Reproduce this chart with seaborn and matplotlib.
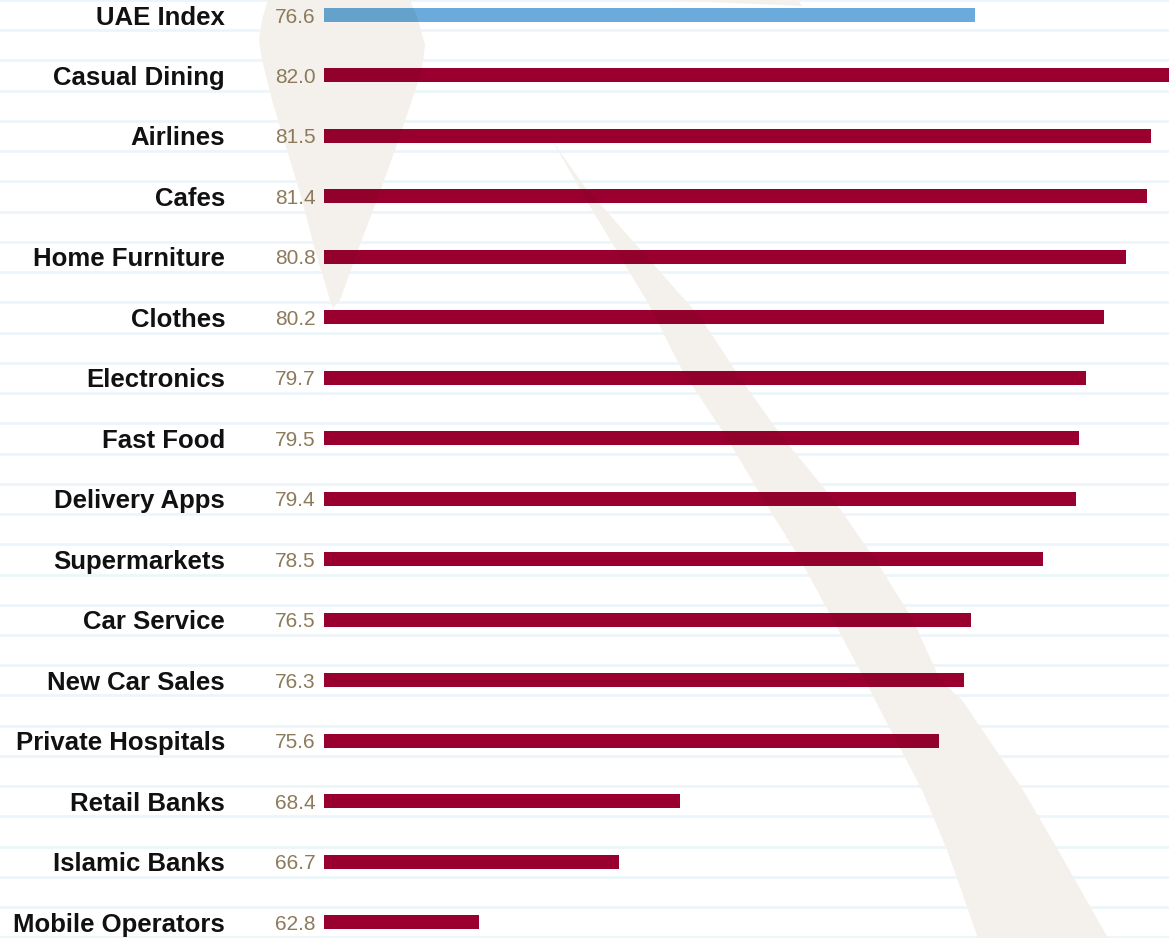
import matplotlib
matplotlib.use("Agg")
import matplotlib.pyplot as plt
from matplotlib.patches import Polygon, Rectangle
import numpy as np
import pandas as pd
import seaborn as sns

# Satisfaction scores by sector
categories = [
    "UAE Index", "Casual Dining", "Airlines", "Cafes", "Home Furniture",
    "Clothes", "Electronics", "Fast Food", "Delivery Apps", "Supermarkets",
    "Car Service", "New Car Sales", "Private Hospitals", "Retail Banks",
    "Islamic Banks", "Mobile Operators",
]
scores = [76.6, 82.0, 81.5, 81.4, 80.8, 80.2, 79.7, 79.5, 79.4, 78.5,
          76.5, 76.3, 75.6, 68.4, 66.7, 62.8]

INDEX_COLOR = "#6AABDB"
SECTOR_COLOR = "#990030"
VALUE_COLOR = "#8C7A5A"
STRIPE_COLOR = "#EEF5FA"
SWOOSH_RGB = (244 / 255, 241 / 255, 236 / 255)

W, H = 1169, 938
X_MIN, X_MAX = 58.5, 82.0
fig = plt.figure(figsize=(W / 100, H / 100), dpi=100)
fig.patch.set_facecolor("white")

y_top, y_bottom = -0.248, 15.26

# background: thin stripes and the decorative brush strokes (pixel coordinates)
bg = fig.add_axes([0, 0, 1, 1], zorder=0)
bg.set_xlim(0, W)
bg.set_ylim(H, 0)
bg.axis("off")

px_per_row = (922.3 - 15.0) / 15
for k in range(33):
    yrow = k * 0.5 - 0.25
    ypx = 15.0 + yrow * px_per_row
    bg.axhline(ypx, color=STRIPE_COLOR, lw=2.0, zorder=1)

drop = [(271, -20), (268, 0), (262, 20), (259, 40), (262, 60), (272, 100),
        (287, 150), (302, 200), (315, 250), (330, 300), (333, 308),
        (340, 300), (358, 250), (377, 200), (395, 150), (412, 100),
        (422, 70), (425, 45), (418, 20), (410, 0), (404, -20)]
sweep = [(553, 142), (588, 203), (618, 253), (648, 303), (682, 370),
         (727, 438), (763, 499), (800, 559), (833, 620), (865, 680),
         (875, 700), (922, 790), (947, 850), (978, 938), (985, 960),
         (1118, 960), (1108, 938), (1058, 850), (1023, 790), (962, 700),
         (940, 680), (913, 620), (875, 559), (833, 499), (783, 438),
         (740, 378), (722, 350), (700, 317), (647, 257), (585, 187)]
sliver = [(655, -5), (663, 0), (720, 2.5), (802, 6), (798, 0), (795, -5)]
strokes = [drop, sweep, sliver]
for pts in strokes:
    bg.add_patch(Polygon(pts, closed=True, facecolor=SWOOSH_RGB,
                         edgecolor="none", zorder=2))

# main bar axes
ax = fig.add_axes([324 / W, 0, 1 - 324 / W, 1], zorder=1)
ax.patch.set_alpha(0)

df = pd.DataFrame({"category": categories, "score": scores})
colors = [INDEX_COLOR] + [SECTOR_COLOR] * (len(categories) - 1)
sns.barplot(data=df, x="score", y="category", hue="category",
            palette=colors, legend=False, width=0.231, saturation=1,
            ax=ax)
ax.set_xlim(X_MIN, X_MAX)
ax.set_ylim(y_bottom, y_top)
ax.axis("off")

# bars look tinted where they cross the brush strokes
bars = list(ax.patches)
for bar in bars:
    fc = np.array(bar.get_facecolor()[:3]) * np.array(SWOOSH_RGB)
    x0 = max(bar.get_x(), X_MIN)
    x1 = min(bar.get_x() + bar.get_width(), X_MAX)
    visible = Rectangle((x0, bar.get_y()), x1 - x0, bar.get_height(),
                        transform=ax.transData)
    for pts in strokes:
        poly = Polygon(pts, closed=True, facecolor=fc, edgecolor="none",
                       transform=bg.transData, zorder=bar.get_zorder() + 0.1)
        ax.add_patch(poly)
        poly.set_clip_path(visible)
ax.set_xlim(X_MIN, X_MAX)
ax.set_ylim(y_bottom, y_top)

for i, (cat, val) in enumerate(zip(categories, scores)):
    ax.annotate(cat, xy=(0, i), xycoords=("axes fraction", "data"),
                xytext=(225 - 324, 0), textcoords="offset pixels",
                ha="right", va="center_baseline", fontsize=18.5,
                fontweight="bold", family="Liberation Sans", color="#111111")
    ax.annotate(f"{val:.1f}", xy=(0, i), xycoords=("axes fraction", "data"),
                xytext=(-8, 0), textcoords="offset pixels",
                ha="right", va="center_baseline", fontsize=15,
                family="Liberation Sans", color=VALUE_COLOR)

fig.savefig("out.png", dpi=100, facecolor="white")
